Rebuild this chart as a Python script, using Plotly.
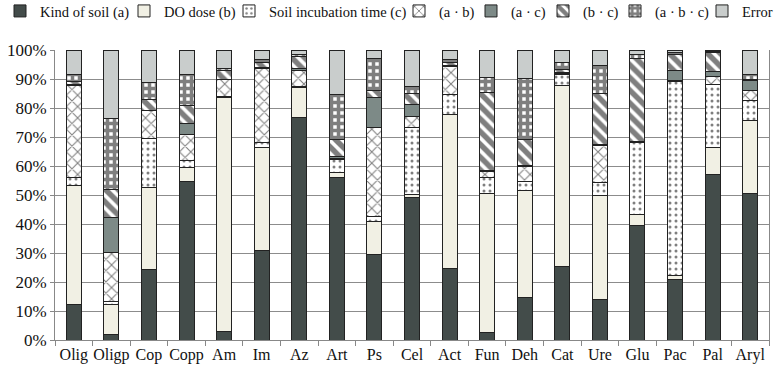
import plotly.graph_objects as go

categories = ["Olig", "Oligp", "Cop", "Copp", "Am", "Im", "Az", "Art", "Ps", "Cel",
              "Act", "Fun", "Deh", "Cat", "Ure", "Glu", "Pac", "Pal", "Aryl"]

kind_of_soil_a = [12.4, 1.8, 24.4, 54.6, 3.1, 30.7, 76.8, 56.1, 29.5, 49.2,
                  24.7, 2.6, 14.7, 25.3, 13.8, 39.4, 20.9, 56.9, 50.6]
do_dose_b = [40.8, 10.5, 28.1, 4.9, 80.6, 35.7, 10.3, 1.6, 11.3, 1.1,
             52.9, 48.0, 36.8, 62.4, 36.0, 4.0, 1.2, 9.5, 25.0]
incubation_c = [2.7, 0.9, 17.0, 2.3, 0.4, 1.6, 0.3, 4.4, 1.7, 23.0,
                7.1, 5.5, 3.1, 3.7, 4.6, 24.6, 67.0, 21.8, 6.9]
inter_ab = [32.0, 16.9, 9.5, 9.2, 5.6, 25.7, 5.7, 0.5, 30.7, 3.9,
            9.6, 1.9, 5.4, 0.5, 12.8, 0.3, 0.3, 2.6, 3.4]
inter_ac = [0.3, 12.2, 0.3, 3.5, 0.3, 0.4, 0.6, 0.6, 10.4, 4.1,
            0.5, 0.3, 0.3, 0.5, 0.3, 0.3, 3.5, 1.7, 3.5]
inter_bc = [0.8, 9.7, 3.7, 6.2, 2.9, 1.5, 4.0, 6.0, 2.6, 3.8,
            1.0, 27.0, 8.9, 1.0, 17.6, 28.5, 5.4, 6.6, 0.5]
inter_abc = [2.6, 24.4, 5.7, 10.7, 0.8, 1.2, 0.9, 15.3, 10.7, 2.3,
             0.8, 5.3, 21.0, 2.2, 9.7, 1.5, 0.7, 0.3, 1.5]
error = [8.4, 23.6, 11.3, 8.6, 6.3, 3.2, 1.4, 15.5, 3.1, 12.6,
         3.4, 9.4, 9.8, 4.4, 5.2, 1.4, 1.0, 0.6, 8.6]

y_ticks = [0, 10, 20, 30, 40, 50, 60, 70, 80, 90, 100]
y_tick_labels = [f"{v}%" for v in y_ticks]

FONT = "Liberation Serif, Times New Roman, serif"

series = [
    ("Kind of soil (a)", kind_of_soil_a, dict(color="#434c4a")),
    ("DO dose (b)", do_dose_b, dict(color="#f1f0e4")),
    ("Soil incubation time (c)", incubation_c,
     dict(color="white", pattern=dict(shape=".", fgcolor="#000", bgcolor="white", size=6, solidity=0.2))),
    ("(a · b)", inter_ab,
     dict(color="white", pattern=dict(shape="x", fgcolor="#000", bgcolor="white", size=8, solidity=0.25))),
    ("(a · c)", inter_ac, dict(color="#7d8a87")),
    ("(b · c)", inter_bc,
     dict(color="white", pattern=dict(shape="\\", fgcolor="#000", bgcolor="white", size=9, solidity=0.6))),
    ("(a · b · c)", inter_abc,
     dict(color="white", pattern=dict(shape="+", fgcolor="#000", bgcolor="white", size=7, solidity=0.75))),
    ("Error", error, dict(color="#c9cdcc")),
]

# legend symbol left edges (pixels from left of figure)
legend_box_px = [14, 138, 243, 413, 485, 557, 629, 716]
W, H = 777, 367
M_T, M_B = 50, 27
plot_h = H - M_T - M_B
legend_top_px = -5

fig = go.Figure()
layout_legends = {}
for i, (name, vals, mk) in enumerate(series):
    mk = dict(mk)
    mk["line"] = dict(color="#222", width=1)
    lg = "legend" if i == 0 else f"legend{i + 1}"
    fig.add_trace(go.Bar(x=categories, y=vals, name=name, marker=mk, legend=lg))
    layout_legends[lg] = dict(
        orientation="h", x=(legend_box_px[i] - 14) / W, xref="container",
        y=1 + (M_T - legend_top_px) / plot_h, yref="paper", xanchor="left", yanchor="top",
        font=dict(family=FONT, size=14.5, color="#111"), bgcolor="rgba(0,0,0,0)",
        itemwidth=30,
    )

fig.update_layout(
    barmode="stack",
    bargap=0.6,
    width=W, height=H,
    margin=dict(l=55, r=8, t=M_T, b=M_B, autoexpand=False),
    paper_bgcolor="white",
    plot_bgcolor="white",
    font=dict(family=FONT, size=16, color="#111"),
    showlegend=True,
    **layout_legends,
)
fig.update_xaxes(showline=True, linecolor="#888", ticks="outside", tickson="boundaries",
                 ticklen=5, tickcolor="#888", showgrid=False, tickangle=0, automargin=False,
                 tickfont=dict(family=FONT, size=16))
fig.update_yaxes(range=[0, 100], tickvals=y_ticks, ticktext=y_tick_labels,
                 showgrid=True, gridcolor="#8c8c8c", gridwidth=1, automargin=False,
                 showline=True, linecolor="#888", ticks="outside", ticklen=4,
                 tickcolor="#888", tickfont=dict(family=FONT, size=17), mirror=True)

fig.write_html("out.html", config={"displayModeBar": False},
               post_script="document.body.style.margin='0px';")
